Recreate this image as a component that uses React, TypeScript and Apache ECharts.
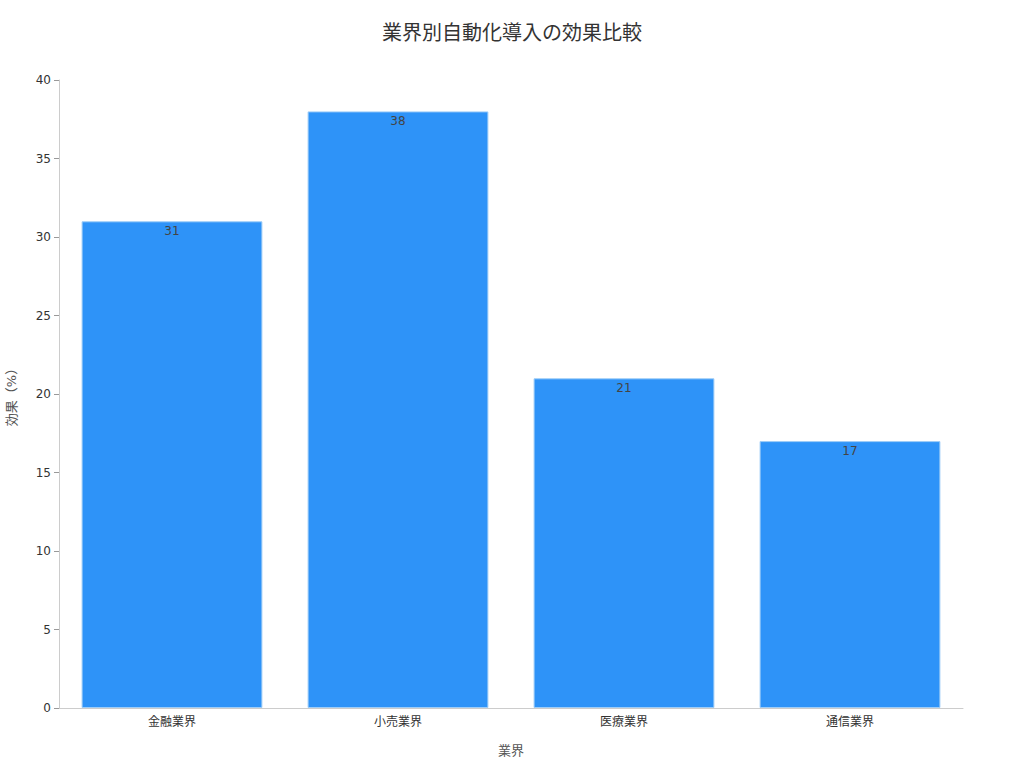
import React, { useEffect, useRef } from "react";
import * as echarts from "echarts";

const industries = ["金融業界", "小売業界", "医療業界", "通信業界"];
const effects = [31, 38, 21, 17];
const yTicks = [0, 5, 10, 15, 20, 25, 30, 35, 40];

const FONT = "'DejaVu Sans', 'Noto Sans CJK JP', sans-serif";

const App: React.FC = () => {
  const chartRef = useRef<HTMLDivElement>(null);

  useEffect(() => {
    if (!chartRef.current) return;
    const chart = echarts.init(chartRef.current, undefined, { renderer: "svg" });

    const option: any = {
      animation: false,
      textStyle: { fontFamily: FONT },
      title: {
        text: "業界別自動化導入の効果比較",
        left: "center",
        top: 18,
        textStyle: { fontSize: 20, fontWeight: "normal", color: "#333", fontFamily: FONT },
      },
      grid: { left: 59, right: 61, top: 80, bottom: 60, outerBoundsMode: "none", containLabel: false },
      xAxis: {
        type: "category",
        data: industries,
        name: "業界",
        nameLocation: "middle",
        nameGap: 36,
        nameTextStyle: { fontSize: 13, color: "#555" },
        axisLine: { lineStyle: { color: "#ccc" } },
        axisTick: { alignWithLabel: true, lineStyle: { color: "#999" } },
        axisLabel: { fontSize: 12, color: "#333", margin: 8 },
      },
      yAxis: {
        type: "value",
        min: yTicks[0],
        max: yTicks[yTicks.length - 1],
        interval: 5,
        name: "効果（%）",
        nameLocation: "middle",
        nameGap: 41,
        nameTextStyle: { fontSize: 13, color: "#555" },
        axisLine: { show: true, lineStyle: { color: "#ccc" } },
        axisTick: { show: true, length: 5, lineStyle: { color: "#999" } },
        axisLabel: { fontSize: 12, color: "#333", margin: 8 },
        splitLine: { show: false },
      },
      series: [
        {
          type: "bar",
          data: effects,
          barCategoryGap: "20%",
          itemStyle: {
            color: "#2E93F8",
            borderColor: "#9fcdf7",
            borderWidth: 1,
          },
          label: {
            show: true,
            position: "insideTop",
            distance: 4,
            fontSize: 12,
            color: "#444",
          },
        },
      ],
    };

    chart.setOption(option);
    return () => {
      chart.dispose();
    };
  }, []);

  return (
    <div
      ref={chartRef}
      style={{ width: 1024, height: 768, position: "absolute", left: 0, top: 0 }}
    />
  );
};

export default App;
